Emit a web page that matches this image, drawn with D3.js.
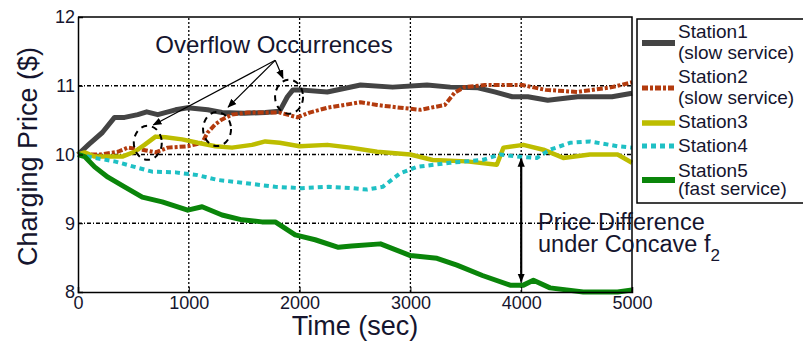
<!DOCTYPE html>
<html>
<head>
<meta charset="utf-8">
<script src="https://cdn.jsdelivr.net/npm/d3@7"></script>
<style>
  html, body { margin: 0; padding: 0; background: #fff; }
  svg { display: block; font-family: "Liberation Sans", Arial, Helvetica, sans-serif; }
</style>
</head>
<body>
<div id="chart"></div>
<script>
// Series values: [time (sec), price ($)]
const station1 = [[0,10],[100,10.15],[220,10.32],[330,10.54],[420,10.54],[540,10.58],[620,10.62],[720,10.58],[880,10.65],[990,10.68],[1170,10.65],[1300,10.61],[1500,10.6],[1690,10.61],[1820,10.63],[1890,10.84],[1940,10.94],[2000,10.94],[2250,10.91],[2550,11.01],[2840,10.98],[3150,11.01],[3360,10.98],[3610,10.97],[3760,10.91],[3920,10.84],[4060,10.84],[4240,10.79],[4510,10.84],[4820,10.84],[5000,10.89]];
const station2 = [[0,10],[200,10],[360,10.04],[450,10.1],[580,10.07],[700,10.03],[810,10.1],[990,10.12],[1120,10.17],[1170,10.32],[1240,10.44],[1300,10.51],[1390,10.58],[1530,10.61],[1660,10.61],[1820,10.61],[1980,10.54],[2090,10.61],[2250,10.68],[2550,10.76],[2700,10.72],[2910,10.68],[3090,10.65],[3310,10.72],[3400,10.9],[3490,10.98],[3670,11.01],[4010,11.01],[4220,10.94],[4510,10.91],[4820,10.98],[5000,11.05]];
const station3 = [[0,10],[60,10.03],[150,9.97],[270,9.97],[400,9.97],[510,10.04],[600,10.14],[700,10.26],[790,10.25],[940,10.22],[1080,10.17],[1240,10.12],[1390,10.1],[1570,10.14],[1690,10.19],[1820,10.17],[2000,10.12],[2250,10.14],[2460,10.1],[2700,10.04],[3000,10.0],[3200,9.92],[3510,9.9],[3780,9.85],[3840,10.1],[4020,10.14],[4200,10.07],[4380,9.95],[4620,10.0],[4870,10.0],[5000,9.88]];
const station4 = [[0,10],[150,9.95],[330,9.9],[510,9.82],[670,9.75],[880,9.74],[1080,9.7],[1260,9.63],[1480,9.59],[1780,9.53],[2020,9.51],[2260,9.53],[2470,9.51],[2610,9.49],[2750,9.53],[2910,9.73],[3060,9.82],[3360,9.88],[3650,9.92],[3810,10.0],[3960,9.97],[4140,9.95],[4260,10.07],[4440,10.17],[4620,10.19],[4870,10.12],[5000,10.1]];
const station5 = [[0,10],[60,9.97],[150,9.82],[270,9.67],[420,9.53],[580,9.38],[760,9.31],[990,9.19],[1120,9.24],[1300,9.12],[1480,9.05],[1660,9.02],[1780,9.02],[1960,8.83],[2140,8.76],[2350,8.65],[2470,8.67],[2730,8.7],[3000,8.53],[3240,8.49],[3420,8.39],[3650,8.24],[3900,8.1],[4020,8.1],[4110,8.17],[4260,8.06],[4560,8.0],[4870,8.0],[5000,8.03]];

const seriesNames = ["Station1", "Station2", "Station3", "Station4", "Station5"];
const seriesNotes = ["(slow service)", "(slow service)", "", "", "(fast service)"];
const xTicks = [0, 1000, 2000, 3000, 4000, 5000];
const yTicks = [8, 9, 10, 11, 12];

// Annotations, in data units
const overflowMarks = [[630, 10.17], [1255, 10.37], [1905, 10.84]];
const overflowApex = [1780, 11.37];
const overflowTargets = [[680, 10.43], [1355, 10.69], [1850, 11.11]];
const diffTime = 4000;
const diffRange = [9.94, 8.15];

const W = 803, H = 341;
const M = { left: 78, right: 171, top: 17, bottom: 49 };

const styles = [
  { color: "#444444", width: 5, dash: null },
  { color: "#b33b0e", width: 4, dash: "6,2,3,2" },
  { color: "#bdbd00", width: 4.5, dash: null },
  { color: "#1fc0c4", width: 4, dash: "5,4" },
  { color: "#0a850a", width: 5, dash: null }
];

const svg = d3.select("#chart").append("svg")
  .attr("width", W).attr("height", H);

svg.append("defs").append("marker")
  .attr("id", "head")
  .attr("viewBox", "0 0 10 10")
  .attr("refX", 9).attr("refY", 5)
  .attr("markerWidth", 9).attr("markerHeight", 9)
  .attr("markerUnits", "userSpaceOnUse")
  .attr("orient", "auto-start-reverse")
  .append("path").attr("d", "M0,1 L10,5 L0,9 Z").attr("fill", "#000");

const x = d3.scaleLinear().domain([0, 5000]).range([M.left, W - M.right]);
const y = d3.scaleLinear().domain([8, 12]).range([H - M.bottom, M.top]);

// Grid
svg.append("g").selectAll("line")
  .data(xTicks.slice(1, -1)).join("line")
  .attr("x1", d => x(d)).attr("x2", d => x(d))
  .attr("y1", y(8)).attr("y2", y(12))
  .attr("stroke", "#000").attr("stroke-width", 1.3)
  .attr("stroke-dasharray", "2,2");
svg.append("g").selectAll("line")
  .data(yTicks.slice(1, -1)).join("line")
  .attr("x1", x(0)).attr("x2", x(5000))
  .attr("y1", d => y(d)).attr("y2", d => y(d))
  .attr("stroke", "#000").attr("stroke-width", 1.3)
  .attr("stroke-dasharray", "4,2,1,2");

// Lines
const line = d3.line().x(d => x(d[0])).y(d => y(d[1]));
const allSeries = [station1, station2, station3, station4, station5];
svg.append("g").selectAll("path")
  .data(allSeries).join("path")
  .attr("d", line)
  .attr("fill", "none")
  .attr("stroke", (d, i) => styles[i].color)
  .attr("stroke-width", (d, i) => styles[i].width)
  .attr("stroke-dasharray", (d, i) => styles[i].dash)
  .attr("stroke-linejoin", "round");

// Axes
const xAxis = d3.axisBottom(x).tickValues(xTicks).tickFormat(d3.format("d"))
  .tickSize(-5).tickPadding(6);
const yAxis = d3.axisLeft(y).tickValues(yTicks).tickFormat(d3.format("d"))
  .tickSize(-5).tickPadding(8);
const gx = svg.append("g").attr("transform", `translate(0,${y(8)})`).call(xAxis);
const gy = svg.append("g").attr("transform", `translate(${x(0)},0)`).call(yAxis);
[gx, gy].forEach(g => {
  g.select(".domain").attr("stroke", "#000").attr("stroke-width", 1.5);
  g.selectAll("text").attr("font-size", 18).attr("fill", "#15152e")
    .attr("font-family", "Liberation Sans, Arial, sans-serif");
});
gx.selectAll("text").attr("dy", "0.6em");
gy.selectAll("text").attr("dx", 5);
// top and right frame
svg.append("path")
  .attr("d", `M${x(0)},${y(12)}H${x(5000)}V${y(8)}`)
  .attr("fill", "none").attr("stroke", "#000").attr("stroke-width", 1.5);

// Axis titles
svg.append("text")
  .attr("x", (x(0) + x(5000)) / 2).attr("y", 335)
  .attr("text-anchor", "middle").attr("font-size", 27).attr("fill", "#15152e")
  .text("Time (sec)");
svg.append("text")
  .attr("transform", `translate(37,${(y(8) + y(12)) / 2 + 2}) rotate(-90)`)
  .attr("text-anchor", "middle").attr("font-size", 27).attr("fill", "#15152e")
  .text("Charging Price ($)");

// Overflow annotation
const ann = svg.append("g");
ann.selectAll("ellipse")
  .data(overflowMarks).join("ellipse")
  .attr("cx", d => x(d[0])).attr("cy", d => y(d[1]))
  .attr("rx", 14).attr("ry", 17)
  .attr("fill", "none").attr("stroke", "#000").attr("stroke-width", 2)
  .attr("stroke-dasharray", "6,5");
ann.selectAll("line")
  .data(overflowTargets).join("line")
  .attr("x1", x(overflowApex[0])).attr("y1", y(overflowApex[1]))
  .attr("x2", d => x(d[0])).attr("y2", d => y(d[1]))
  .attr("stroke", "#000").attr("stroke-width", 1.2)
  .attr("marker-end", "url(#head)");
ann.append("text")
  .attr("x", 274).attr("y", 53)
  .attr("text-anchor", "middle").attr("font-size", 24).attr("fill", "#15152e")
  .text("Overflow Occurrences");

// Price difference annotation
svg.append("line")
  .attr("x1", x(diffTime)).attr("x2", x(diffTime))
  .attr("y1", y(diffRange[0])).attr("y2", y(diffRange[1]))
  .attr("stroke", "#000").attr("stroke-width", 2.2)
  .attr("marker-start", "url(#head)").attr("marker-end", "url(#head)");
const pd = svg.append("text").attr("font-size", 23.5).attr("fill", "#15152e");
pd.append("tspan").attr("x", 538).attr("y", 230).text("Price Difference");
pd.append("tspan").attr("x", 538).attr("y", 252).text("under Concave f");
pd.append("tspan").attr("dy", 9).attr("font-size", 17).text("2");

// Legend
const legendY = [43, 88, 123, 146, 180];
const nameY = [38, 83, 128, 152, 177];
const noteY = [59, 104, 0, 0, 195];
const lg = svg.append("g");
lg.append("rect")
  .attr("x", 637).attr("y", 19).attr("width", 180).attr("height", 184)
  .attr("fill", "#fff").attr("stroke", "#000").attr("stroke-width", 1.5);
seriesNames.forEach((name, i) => {
  lg.append("line")
    .attr("x1", 642).attr("x2", 675)
    .attr("y1", legendY[i]).attr("y2", legendY[i])
    .attr("stroke", styles[i].color)
    .attr("stroke-width", styles[i].width + 1)
    .attr("stroke-dasharray", styles[i].dash);
  lg.append("text").attr("x", 678).attr("y", nameY[i])
    .attr("font-size", 19).attr("fill", "#15152e").text(name);
  if (seriesNotes[i]) {
    lg.append("text").attr("x", 678).attr("y", noteY[i])
      .attr("font-size", 19).attr("fill", "#15152e").text(seriesNotes[i]);
  }
});
</script>
</body>
</html>
